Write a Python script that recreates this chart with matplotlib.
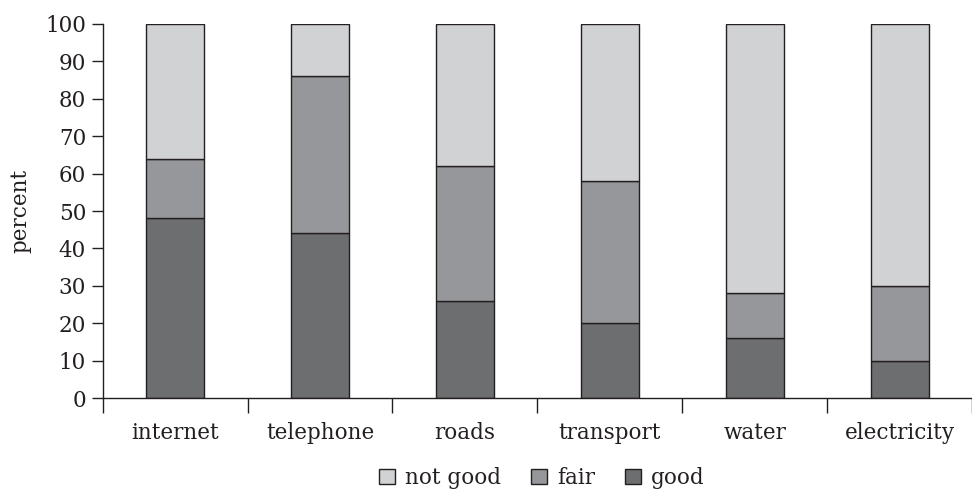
import numpy as np
from matplotlib import pyplot as plt
from matplotlib.patches import Patch

categories = ["internet", "telephone", "roads", "transport", "water", "electricity"]
good = [48, 44, 26, 20, 16, 10]
fair = [16, 42, 36, 38, 12, 20]
not_good = [100 - g - f for g, f in zip(good, fair)]

colors = {"good": "#6d6e70", "fair": "#96979b", "not good": "#d1d2d4"}
edge = "#231f20"
fs = 15.5

plt.rcParams["font.family"] = ["DejaVu Serif"]

fig = plt.figure(figsize=(9.72, 4.92), dpi=100)
ax = fig.add_axes([102.7 / 972, 1 - 398.3 / 492, (972 - 102.7) / 972, (398.3 - 23.7) / 492])

x = np.arange(len(categories))
w = 0.4
ax.bar(x, good, w, color=colors["good"], edgecolor=edge, linewidth=1)
ax.bar(x, fair, w, bottom=good, color=colors["fair"], edgecolor=edge, linewidth=1)
bottom2 = [g + f for g, f in zip(good, fair)]
ax.bar(x, not_good, w, bottom=bottom2, color=colors["not good"], edgecolor=edge, linewidth=1)

ax.set_xlim(-0.5, -0.5 + (972 - 102.7) / 146.5)
ax.set_ylim(0, 100)
ax.set_yticks(range(0, 101, 10))
ax.set_xticks(np.arange(len(categories) + 1) - 0.5)
ax.set_xticklabels([])
ax.set_xticks(x, minor=True)
ax.set_xticklabels(categories, minor=True)
ax.tick_params(axis="x", which="major", length=11, width=1, color=edge)
ax.tick_params(axis="x", which="minor", length=0, pad=17, labelsize=fs, labelcolor=edge)
ax.tick_params(axis="y", length=8, width=1, color=edge, labelsize=fs, pad=4, labelcolor=edge)

for s in ["top", "right"]:
    ax.spines[s].set_visible(False)
for s in ["left", "bottom"]:
    ax.spines[s].set_color(edge)
    ax.spines[s].set_linewidth(1)

ax.set_ylabel("percent", fontsize=fs, labelpad=10, color=edge)

handles = [Patch(facecolor=colors[k], edgecolor=edge, linewidth=1, label=k)
           for k in ["not good", "fair", "good"]]
leg = fig.legend(handles=handles, loc="center", bbox_to_anchor=(542 / 972, 1 - 478 / 492),
                 ncol=3, frameon=False, fontsize=fs, handlelength=0.75, handleheight=0.75,
                 handletextpad=0.45, columnspacing=1.4)
for t in leg.get_texts():
    t.set_color(edge)

fig.savefig("out.png", dpi=100)
